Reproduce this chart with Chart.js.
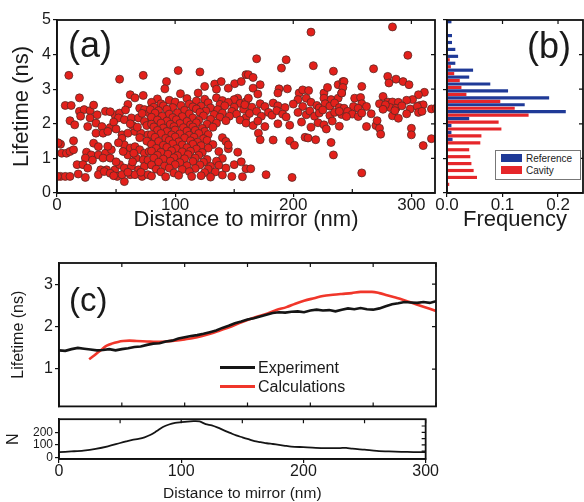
<!DOCTYPE html>
<html lang="en">
<head>
<meta charset="UTF-8" />
<title>Lifetime vs distance to mirror</title>
<script src="https://cdn.jsdelivr.net/npm/chart.js@4.4.0/dist/chart.umd.min.js"></script>
<style>
  body { margin: 0; background: #fff; font-family: Arial, "Liberation Sans", sans-serif; color: #1a1a1a; }
  #wrap { position: relative; width: 584px; height: 502px; overflow: hidden; }
  canvas { position: absolute; }
  .tag { position: absolute; line-height: 1; color: #1a1a1a; }
  .legend { position: absolute; }
  .legend .row { display: flex; align-items: center; white-space: nowrap; }
  #legendB { left: 495px; top: 150px; width: 79px; height: 27px; border: 1px solid #777; background: #fff; padding: 1px 0 0 5px; box-sizing: content-box; font-size: 10px; }
  #legendB .row { height: 12px; }
  #legendB .sw { width: 21px; height: 8px; margin-right: 4px; }
  #legendC { left: 220px; top: 358px; font-size: 16px; }
  #legendC .row { height: 19px; }
  #legendC .sw { width: 35px; height: 3px; margin-right: 3px; }
</style>
</head>
<body>
<div id="wrap">
  <canvas id="chartA" width="440" height="235" style="left:0;top:0"></canvas>
  <canvas id="chartB" width="159" height="235" style="left:425px;top:0"></canvas>
  <canvas id="chartC" width="440" height="178" style="left:0;top:240px"></canvas>
  <canvas id="chartN" width="440" height="92" style="left:0;top:410px"></canvas>
  <div class="tag" style="left:68px;top:27px;font-size:36px">(a)</div>
  <div class="tag" style="left:527px;top:28px;font-size:36px">(b)</div>
  <div class="tag" style="left:69px;top:283px;font-size:33px">(c)</div>
  <div class="legend" id="legendB"></div>
  <div class="legend" id="legendC"></div>
</div>

<script>
  // (a) single emitters: [distance to mirror (nm), lifetime (ns)]
  const mirrorScatter = [
    [10,3.40],[53,3.29],[73,3.40],[19,2.75],[7,2.53],[12,2.53],[19,2.36],[23,2.41],[28,2.38],[31,2.54],
    [20,2.22],[28,2.17],[34,2.26],[41,2.36],[11,2.09],[15,1.97],[26,1.92],[33,2.02],[38,1.92],[45,1.89],
    [49,2.26],[53,2.31],[62,2.84],[66,2.75],[73,2.82],[60,2.56],[70,2.45],[74,2.41],[78,2.31],[52,2.17],
    [57,2.12],[63,2.17],[69,2.17],[74,2.07],[80,2.17],[33,1.73],[39,1.73],[43,1.78],[55,1.68],[60,1.73],
    [66,1.78],[71,1.73],[77,1.68],[3,1.41],[14,1.51],[4,1.15],[8,1.15],[11,1.20],[14,1.25],[31,1.44],
    [35,1.34],[25,1.18],[29,1.10],[35,1.10],[41,1.15],[39,1.01],[45,1.01],[55,1.58],[57,1.39],[62,1.30],
    [66,1.34],[70,1.25],[74,1.15],[78,1.20],[60,1.10],[67,1.01],[73,0.96],[24,1.01],[17,0.82],[22,0.82],
    [26,0.72],[37,0.67],[42,0.67],[49,0.67],[53,0.82],[57,0.72],[63,0.77],[69,0.67],[74,0.77],[80,0.82],
    [3,0.48],[7,0.48],[11,0.48],[18,0.55],[24,0.45],[35,0.53],[40,0.62],[45,0.57],[51,0.48],[57,0.33],
    [62,0.53],[66,0.53],[72,0.48],[77,0.53],[55,0.53],[45,2.35],[48,2.05],[58,2.40],[64,1.95],[68,1.90],
    [76,1.95],[72,2.30],[50,1.85],[62,2.00],[80,2.45],[56,1.20],[50,0.90],[46,1.25],[64,0.90],[77,0.95],
    [79,1.45],[70,1.60],[76,1.50],[60,0.60],[71,0.60],[65,1.15],[52,1.45],[43,1.35],[30,0.95],[48,0.50],
    [1,1.45],[0.5,0.48],
    [102.6,3.54],[121,3.50],[92.7,3.22],[91.3,3.01],[104.5,2.87],[125,3.08],[133.5,3.15],[139,3.22],[150.4,3.16],[156,3.22],
    [160,3.42],[135,3.00],[145,3.03],[119.5,2.89],[153,2.74],
    [85,2.72],[95,2.68],[110,2.73],[118,2.66],[125,2.71],[135,2.75],[140,2.67],[150,2.70],
    [80,2.62],[88,2.58],[100,2.63],[112,2.57],[128,2.61],[138,2.56],[145,2.62],[155,2.59],[160,2.64],
    [82,2.48],[90,2.52],[98,2.47],[105,2.53],[115,2.49],[122,2.51],[130,2.46],[142,2.52],[150,2.48],
    [79,2.41],[86,2.38],[93,2.42],[108,2.39],[118,2.43],[126,2.37],[136,2.41],[148,2.36],[158,2.42],
    [83,2.31],[95,2.28],[102,2.32],[112,2.29],[121,2.33],[133,2.27],[140,2.31],[152,2.28],
    [80,2.19],[89,2.22],[98,2.18],[106,2.21],[115,2.17],[124,2.23],[138,2.19],[146,2.22],[160,2.18],
    [85,2.11],[93,2.08],[101,2.12],[110,2.07],[120,2.10],[130,2.13],[143,2.09],[155,2.11],
    [80,1.99],[88,2.02],[96,1.98],[104,2.01],[113,1.97],[118,2.03],[127,1.99],[135,2.02],
    [82,1.91],[90,1.88],[99,1.92],[107,1.89],[115,1.91],[123,1.87],[132,1.90],
    [85,1.81],[93,1.78],[100,1.82],[110,1.79],[117,1.81],[125,1.78],
    [80,1.69],[88,1.72],[97,1.68],[104,1.71],[112,1.67],[120,1.72],[128,1.69],
    [83,1.61],[92,1.58],[100,1.62],[108,1.59],[116,1.61],[124,1.57],[140,1.60],
    [86,1.49],[95,1.52],[103,1.48],[113,1.51],[119,1.47],[127,1.52],[143,1.49],
    [80,1.41],[90,1.38],[98,1.42],[106,1.39],[115,1.41],[122,1.37],[132,1.40],
    [84,1.29],[93,1.32],[101,1.28],[110,1.31],[118,1.27],[128,1.30],[145,1.28],
    [80,1.21],[88,1.18],[97,1.22],[106,1.19],[113,1.21],[123,1.17],[137,1.20],
    [85,1.09],[94,1.12],[102,1.08],[111,1.11],[120,1.09],
    [82,1.01],[90,0.98],[99,1.02],[108,0.99],[117,1.01],[127,0.97],[140,1.00],
    [86,0.89],[96,0.92],[104,0.88],[115,0.91],[124,0.89],[135,0.92],
    [80,0.81],[91,0.78],[100,0.82],[110,0.79],[121,0.81],[130,0.77],[137,0.80],[150,0.82],
    [84,0.69],[95,0.72],[106,0.68],[117,0.71],[128,0.69],[143,0.72],[160,0.70],
    [88,0.61],[99,0.58],[112,0.62],[125,0.59],[134,0.61],
    [80,0.49],[92,0.47],[103,0.51],[114,0.48],[122,0.50],[130,0.46],[140,0.52],[148,0.48],[157,0.47],
    [145,1.39],[153,1.18],[156,0.90],
    [215,4.65],[169,3.88],[194,3.85],[190,3.61],[217,3.68],[234,3.52],[162,3.42],[166,3.34],[172,3.13],[166,3.03],
    [188,3.01],[195,3.01],[205,2.89],[208,2.98],[213,2.96],[226,2.89],[229,3.05],[238,3.13],[242,3.22],[226,2.74],
    [162,2.74],[170,2.86],[187,2.89],[204,2.70],[211,2.74],[232,2.70],[238,2.74],[241,2.89],
    [159,2.55],[165,2.48],[172,2.58],[176,2.50],[183,2.60],[187,2.52],[193,2.47],[200,2.57],[208,2.50],[215,2.62],
    [220,2.53],[222,2.46],[227,2.58],[231,2.51],[235,2.60],[239,2.47],
    [163,2.30],[169,2.36],[173,2.22],[179,2.33],[182,2.25],[186,2.38],[191,2.28],[194,2.20],[204,2.33],[211,2.26],
    [214,2.37],[218,2.22],[222,2.31],[225,2.40],[231,2.24],[235,2.33],[241,2.27],
    [160,2.02],[166,1.95],[170,2.08],[176,1.92],[187,2.00],[197,1.96],[207,2.05],[215,1.90],[221,2.03],[226,1.97],
    [233,2.08],[239,1.93],
    [170.5,1.73],[172,1.54],[183,1.53],[197,1.51],[201,1.38],[210,1.61],[212.5,1.59],[219,1.54],[228,1.85],[232,1.46],
    [234,1.10],[164,0.70],[177,0.53],[199,0.45],
    [284,4.80],[297,3.98],[268,3.59],[280,3.37],[287,3.29],[281,3.18],[293,3.22],[298,3.13],[258,3.08],[243,3.22],
    [242,3.05],[241,2.89],[311,2.91],[306,2.84],[276,2.79],[252,2.74],[257,2.76],[301,2.70],[296,2.68],[280,2.63],
    [284,2.63],[289,2.62],[273,2.58],[258,2.58],[307,2.53],[310,2.55],[251,2.50],[255,2.45],[262,2.50],[243,2.45],
    [239,2.36],[246,2.36],[282,2.47],[287,2.45],[299,2.43],[305,2.50],[317,2.43],[321,2.45],[250,2.28],[255,2.21],
    [245,2.21],[258,2.31],[266,2.29],[284,2.23],[289,2.16],[296,2.29],[306,2.33],[309,2.36],[262,1.92],[270,1.95],
    [271,2.09],[273,1.87],[274,1.70],[300,1.87],[300,1.68],[317,1.57],[310,1.37],[258,0.58],
    [278,2.55],[292,2.52],[286,2.38],[276,2.42]
  ];
  const distTicksA = [0, 100, 200, 300];
  const lifetimeTicksA = [0, 1, 2, 3, 4, 5];

  // (b) lifetime histogram, 0.2 ns bins (centres)
  const binCenters = [0.3,0.5,0.7,0.9,1.1,1.3,1.5,1.7,1.9,2.1,2.3,2.5,2.7,2.9,3.1,3.3,3.5,3.7,3.9,4.1,4.3,4.5,4.7,4.9];
  const referenceFreq = [0,0,0,0,0,0,0.010,0.008,0.008,0.040,0.214,0.140,0.184,0.110,0.078,0.040,0.047,0.015,0.020,0.015,0.009,0.009,0,0.008];
  const cavityFreq = [0.004,0.054,0.048,0.044,0.042,0.040,0.060,0.062,0.098,0.093,0.147,0.122,0.096,0.035,0.026,0.023,0.013,0.007,0.005,0,0,0,0,0];
  const freqTicks = [0, 0.1, 0.2];

  // (c) running average vs calculation
  const expDistance = [0,5,10,15,20,25,30,35,40,45,50,55,60,65,70,75,80,85,90,95,100,105,110,115,120,125,130,135,140,145,150,155,160,165,170,175,180,185,190,195,200,205,210,215,220,225,230,235,240,245,250,255,260,265,270,275,280,285,290,295,300];
  const expLifetime = [1.44,1.43,1.47,1.50,1.48,1.46,1.44,1.45,1.47,1.44,1.47,1.49,1.52,1.53,1.57,1.60,1.61,1.65,1.67,1.72,1.75,1.78,1.80,1.83,1.87,1.91,1.97,2.02,2.08,2.12,2.17,2.20,2.24,2.28,2.32,2.34,2.33,2.35,2.36,2.34,2.38,2.40,2.38,2.39,2.36,2.40,2.43,2.41,2.44,2.41,2.40,2.43,2.48,2.53,2.55,2.58,2.57,2.56,2.58,2.56,2.60];
  const calcDistance = [24,28,33,38,42,47,51,56,62,70,77,85,92,100,107,114,121,128,136,143,151,158,166,173,181,188,195,203,210,218,225,233,240,249,255,261,267,273,279,284,290,295,300];
  const calcLifetime = [1.23,1.32,1.44,1.55,1.60,1.64,1.66,1.67,1.66,1.65,1.64,1.65,1.67,1.70,1.73,1.78,1.84,1.91,1.99,2.08,2.17,2.24,2.31,2.39,2.46,2.54,2.61,2.67,2.72,2.75,2.77,2.79,2.82,2.82,2.79,2.74,2.69,2.64,2.58,2.53,2.47,2.42,2.37];
  const lifetimeTicksC = [1, 2, 3];

  // number of emitters in the averaging window
  const nDistance = [0,10,20,30,40,50,55,60,65,70,75,80,85,90,95,100,105,110,115,120,125,130,135,140,145,150,155,160,165,170,175,180,185,190,200,210,220,230,235,240,250,260,270,280,290,300];
  const nCount = [42,48,55,68,88,115,128,140,148,160,180,210,242,262,274,280,285,288,286,265,255,237,215,195,175,160,145,130,122,113,107,100,93,87,82,77,75,75,77,70,62,53,48,45,43,42];
  const nTicks = [0, 100, 200];
  const distTicksC = [0, 100, 200, 300];
  const minorDist = [0, 50, 100, 150, 200, 250, 300];

  Chart.defaults.font.family = 'Arial, "Liberation Sans", sans-serif';
  Chart.defaults.color = '#1a1a1a';

  // box round the plot area plus inward mirror ticks
  const framePlugin = {
    id: 'frame',
    afterDraw(chart, args, opts) {
      const { ctx, chartArea: a, scales } = chart;
      const len = 4;
      ctx.save();
      ctx.strokeStyle = '#111';
      ctx.lineWidth = 1.8;
      ctx.strokeRect(a.left, a.top, a.right - a.left, a.bottom - a.top);
      ctx.lineWidth = 1.2;
      ctx.beginPath();
      (opts.top || []).forEach(v => {
        const x = scales.x.getPixelForValue(v);
        ctx.moveTo(x, a.top); ctx.lineTo(x, a.top + len);
      });
      (opts.bottom || []).forEach(v => {
        const x = scales.x.getPixelForValue(v);
        ctx.moveTo(x, a.bottom); ctx.lineTo(x, a.bottom - len);
      });
      (opts.right || []).forEach(v => {
        const y = scales.y.getPixelForValue(v);
        ctx.moveTo(a.right, y); ctx.lineTo(a.right - len, y);
      });
      ctx.stroke();
      ctx.restore();
    }
  };

  const axisGrid = { drawOnChartArea: false, color: '#111', lineWidth: 1.2, tickLength: 4, offset: false };
  const axisBorder = { color: '#111', width: 1.5 };
  const fixTicks = list => scale => { scale.ticks = list.map(v => ({ value: v })); };
  const baseOpts = { responsive: false, animation: false, events: [] };

  // (a) scatter
  new Chart(document.getElementById('chartA'), {
    type: 'scatter',
    data: {
      datasets: [{
        data: mirrorScatter.map(p => ({ x: p[0], y: p[1] })),
        backgroundColor: '#e3201b',
        borderColor: '#5a2a24',
        borderWidth: 0.8,
        pointRadius: 4
      }]
    },
    options: {
      ...baseOpts,
      layout: { padding: { top: 20, right: 5, left: 0, bottom: 0 } },
      plugins: { legend: { display: false }, tooltip: { enabled: false }, frame: { top: [100, 200, 300], bottom: [50, 150, 250], right: [1, 2, 3, 4] } },
      scales: {
        x: {
          type: 'linear', min: 0, max: 320,
          afterBuildTicks: fixTicks(distTicksA),
          afterFit: s => { s.height = 42; },
          ticks: { font: { size: 17, lineHeight: 1 }, padding: 0, maxRotation: 0 },
          grid: axisGrid, border: axisBorder,
          title: { display: true, text: 'Distance to mirror (nm)', font: { size: 22, lineHeight: 1 }, padding: { top: 0, bottom: 4 } }
        },
        y: {
          type: 'linear', min: 0, max: 5,
          afterBuildTicks: fixTicks(lifetimeTicksA),
          afterFit: s => { s.width = 57; },
          ticks: { font: { size: 16 }, padding: 2 },
          grid: axisGrid, border: axisBorder,
          title: { display: true, text: 'Lifetime (ns)', font: { size: 22, lineHeight: 1 }, padding: { top: 11, bottom: 0 } }
        }
      }
    },
    plugins: [framePlugin]
  });

  // (b) histogram
  const chartB = new Chart(document.getElementById('chartB'), {
    type: 'bar',
    data: {
      datasets: [
        { label: 'Reference', data: binCenters.map((c, i) => ({ x: referenceFreq[i], y: c })), backgroundColor: '#1f3a97' },
        { label: 'Cavity', data: binCenters.map((c, i) => ({ x: cavityFreq[i], y: c })), backgroundColor: '#e6262a' }
      ]
    },
    options: {
      ...baseOpts,
      indexAxis: 'y',
      categoryPercentage: 1,
      barPercentage: 0.92,
      layout: { padding: { top: 20, right: 1, left: 0, bottom: 0 } },
      plugins: { legend: { display: false }, tooltip: { enabled: false }, frame: { top: [0.1, 0.2], right: [1, 2, 3, 4] } },
      scales: {
        x: {
          type: 'linear', min: 0, max: 0.245,
          afterBuildTicks: fixTicks(freqTicks),
          afterFit: s => { s.height = 42; },
          ticks: { font: { size: 17, lineHeight: 1 }, padding: 0, maxRotation: 0, callback: v => v.toFixed(1) },
          grid: axisGrid, border: axisBorder,
          title: { display: true, text: 'Frequency', font: { size: 22, lineHeight: 1 }, padding: { top: 0, bottom: 4 } }
        },
        y: {
          type: 'linear', min: 0, max: 5, offset: false,
          afterBuildTicks: fixTicks(lifetimeTicksA),
          afterFit: s => { s.width = 22; },
          ticks: { display: false },
          grid: axisGrid, border: axisBorder
        }
      }
    },
    plugins: [framePlugin]
  });

  // (c) lifetime vs distance, experiment and calculation
  const chartC = new Chart(document.getElementById('chartC'), {
    type: 'line',
    data: {
      datasets: [
        { label: 'Experiment', data: expDistance.map((d, i) => ({ x: d, y: expLifetime[i] })), borderColor: '#151515', borderWidth: 2.6, pointRadius: 0, tension: 0 },
        { label: 'Calculations', data: calcDistance.map((d, i) => ({ x: d, y: calcLifetime[i] })), borderColor: '#f0362a', borderWidth: 2.6, pointRadius: 0, cubicInterpolationMode: 'monotone' }
      ]
    },
    options: {
      ...baseOpts,
      layout: { padding: { top: 23, right: 4, left: 0, bottom: 1 } },
      plugins: { legend: { display: false }, tooltip: { enabled: false }, frame: { top: minorDist, bottom: minorDist, right: lifetimeTicksC } },
      scales: {
        x: { type: 'linear', min: 0, max: 300, display: false },
        y: {
          type: 'linear', min: 0.12, max: 3.5,
          afterBuildTicks: fixTicks(lifetimeTicksC),
          afterFit: s => { s.width = 59; },
          ticks: { font: { size: 16 }, padding: 2 },
          grid: axisGrid, border: axisBorder,
          title: { display: true, text: 'Lifetime (ns)', font: { size: 16, lineHeight: 1 }, padding: { top: 11, bottom: 0 } }
        }
      }
    },
    plugins: [framePlugin]
  });

  // N panel
  new Chart(document.getElementById('chartN'), {
    type: 'line',
    data: {
      datasets: [{ label: 'N', data: nDistance.map((d, i) => ({ x: d, y: nCount[i] })), borderColor: '#151515', borderWidth: 1.8, pointRadius: 0, tension: 0.3 }]
    },
    options: {
      ...baseOpts,
      layout: { padding: { top: 7, right: 4, left: 0, bottom: 0 } },
      plugins: { legend: { display: false }, tooltip: { enabled: false }, frame: { top: minorDist, right: [50, 100, 150, 200, 250] } },
      scales: {
        x: {
          type: 'linear', min: 0, max: 300,
          afterBuildTicks: fixTicks(distTicksC),
          afterFit: s => { s.height = 43; },
          ticks: { font: { size: 16, lineHeight: 1 }, padding: 1, maxRotation: 0 },
          grid: axisGrid, border: axisBorder,
          title: { display: true, text: 'Distance to mirror (nm)', font: { size: 15.5, lineHeight: 1 }, padding: { top: 0, bottom: 1 } }
        },
        y: {
          type: 'linear', min: -12, max: 304,
          afterBuildTicks: fixTicks(nTicks),
          afterFit: s => { s.width = 59; },
          ticks: { font: { size: 12 }, padding: 2 },
          grid: axisGrid, border: axisBorder,
          title: { display: true, text: 'N', font: { size: 16, lineHeight: 1 }, padding: { top: 6, bottom: 0 } }
        }
      }
    },
    plugins: [framePlugin]
  });

  // legends built from the dataset labels and colours
  function htmlLegend(chart, id, colorKey) {
    const box = document.getElementById(id);
    chart.data.datasets.forEach(ds => {
      const row = document.createElement('div');
      row.className = 'row';
      const sw = document.createElement('span');
      sw.className = 'sw';
      sw.style.background = ds[colorKey];
      row.appendChild(sw);
      row.appendChild(document.createTextNode(ds.label));
      box.appendChild(row);
    });
  }
  htmlLegend(chartB, 'legendB', 'backgroundColor');
  htmlLegend(chartC, 'legendC', 'borderColor');
</script>
</body>
</html>
